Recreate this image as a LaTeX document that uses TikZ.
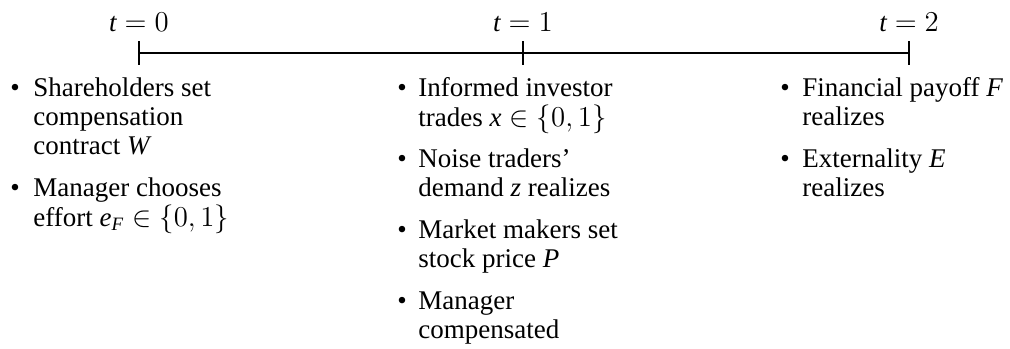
\documentclass[tikz,border=0pt]{standalone}
\usepackage{amsmath}
\usepackage{fontspec}
\setmainfont{Liberation Serif}
\begin{document}
\begin{tikzpicture}[x=0.5pt,y=-0.5pt,
  txt/.style={inner sep=0pt, font=\fontsize{13.5}{14.5}\selectfont},
  lbl/.style={txt, anchor=base},
  bul/.style={txt, anchor=base},
  itm/.style={txt, anchor=base west},
  axis/.style={line width=1pt},
  tick/.style={line width=1pt}]
\useasboundingbox (0,0) rectangle (1010,348);
% timeline
\coordinate (t0) at (139,53);
\coordinate (t1) at (523,53);
\coordinate (t2) at (909,53);
\draw[axis] (t0) -- (t2);
\foreach \p in {t0,t1,t2} { \draw[tick] (\p) ++(0,-12) -- ++(0,24); }
% time labels
\node[lbl] (l0) at (139,31) {$\textit{t}=0$};
\node[lbl] (l1) at (523,31) {$\textit{t}=1$};
\node[lbl] (l2) at (909,31) {$\textit{t}=2$};
% left column
\node[bul] (b01) at (15,96) {\textbullet};
\node[itm] (i01) at (33,96) {\begin{tabular}[t]{@{}l@{}}Shareholders set\\compensation\\contract \textit{W}\end{tabular}};
\node[bul] (b02) at (15,196) {\textbullet};
\node[itm] (i02) at (33,196) {\begin{tabular}[t]{@{}l@{}}Manager chooses\\effort $\textit{e}_{\textit{F}}\in\{0,1\}$\end{tabular}};
% middle column
\node[bul] (b11) at (402,96) {\textbullet};
\node[itm] (i11) at (418,96) {\begin{tabular}[t]{@{}l@{}}Informed investor\\trades $\textit{x}\in\{0,1\}$\end{tabular}};
\node[bul] (b12) at (402,167) {\textbullet};
\node[itm] (i12) at (418,167) {\begin{tabular}[t]{@{}l@{}}Noise traders'\\demand \textit{z} realizes\end{tabular}};
\node[bul] (b13) at (402,238) {\textbullet};
\node[itm] (i13) at (418,238) {\begin{tabular}[t]{@{}l@{}}Market makers set\\stock price \textit{P}\end{tabular}};
\node[bul] (b14) at (402,309) {\textbullet};
\node[itm] (i14) at (418,309) {\begin{tabular}[t]{@{}l@{}}Manager\\compensated\end{tabular}};
% right column
\node[bul] (b21) at (785,96) {\textbullet};
\node[itm] (i21) at (802,96) {\begin{tabular}[t]{@{}l@{}}Financial payoff \textit{F}\\realizes\end{tabular}};
\node[bul] (b22) at (785,167) {\textbullet};
\node[itm] (i22) at (802,167) {\begin{tabular}[t]{@{}l@{}}Externality \textit{E}\\realizes\end{tabular}};
\end{tikzpicture}
\end{document}
